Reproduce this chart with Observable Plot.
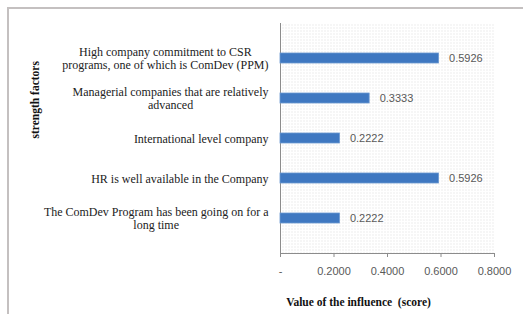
<!DOCTYPE html>
<html>
<head>
<meta charset="utf-8">
<script src="https://cdn.jsdelivr.net/npm/d3@7"></script>
<script src="https://cdn.jsdelivr.net/npm/@observablehq/plot@0.6"></script>
<style>
  html, body { margin: 0; padding: 0; background: #fff; }
  #wrap { position: relative; width: 523px; height: 314px; overflow: hidden; }
  #box { position: absolute; left: 7px; top: 7px; right: -10px; bottom: -10px;
         border-left: 2px solid #c4c0c0; border-top: 2px solid #c4c0c0; pointer-events: none; }
</style>
</head>
<body>
<div id="wrap"><div id="box"></div></div>
<script>
const categories = [
  "High company commitment to CSR\nprograms, one of which is ComDev (PPM)",
  "Managerial companies that are relatively\nadvanced",
  "International level company",
  "HR is well available in the Company",
  "The ComDev Program has been going on for a\nlong time"
];
const values = [0.5926, 0.3333, 0.2222, 0.5926, 0.2222];
const xTicks = [0, 0.2, 0.4, 0.6, 0.8];
const xTickLabels = ["-", "0.2000", "0.4000", "0.6000", "0.8000"];
const xTitle = "Value of the influence  (score)";
const yTitle = "strength factors";

const data = categories.map((c, i) => ({category: c, value: values[i]}));
const serif = "'Liberation Serif', 'DejaVu Serif', serif";
const sans = "'Liberation Sans', Arial, sans-serif";

const chart = Plot.plot({
  width: 523,
  height: 314,
  marginLeft: 280,
  marginRight: 29,
  marginTop: 23,
  marginBottom: 61,
  style: {background: "transparent", overflow: "visible"},
  x: {domain: [0, 0.8]},
  y: {domain: categories, padding: 0.75},
  marks: [
    Plot.frame({fill: "url(#dots)", stroke: null}),
    Plot.frame({anchor: "bottom", stroke: "#8c8c8c"}),
    Plot.ruleX([0], {stroke: "#8c8c8c"}),
    Plot.barX(data, {x: "value", y: "category", fill: "#3f78c1", stroke: "#6b98d0", strokeWidth: 0.8}),
    Plot.text(data, {x: "value", y: "category", text: d => d.value.toFixed(4), textAnchor: "start", dx: 10,
      fill: "#595959", fontSize: 11, fontFamily: sans}),
    Plot.axisX({ticks: xTicks, tickFormat: (d, i) => xTickLabels[i], tickSize: 4, tickPadding: 10,
      stroke: "#8c8c8c", fill: "#595959", fontSize: 11, fontFamily: sans, label: null}),
    Plot.axisY({tickSize: 0, tickPadding: 12, fill: "#222", fontSize: 12, fontFamily: serif, label: null,
      lineHeight: 1.05}),
    Plot.text([xTitle], {frameAnchor: "bottom", dx: -29, dy: 52, fontFamily: serif, fontWeight: "bold",
      fontSize: 11.5, fill: "#111"}),
    Plot.text([yTitle], {frameAnchor: "left", dx: -245, rotate: -90, fontFamily: serif, fontWeight: "bold",
      fontSize: 11.5, fill: "#111"})
  ]
});

// dotted background pattern
const ns = "http://www.w3.org/2000/svg";
const defs = document.createElementNS(ns, "defs");
defs.innerHTML = '<pattern id="dots" width="3" height="3" patternUnits="userSpaceOnUse">' +
  '<rect width="3" height="3" fill="#ffffff"/><rect x="0" y="0" width="1" height="1" fill="#dcdcdc"/></pattern>';
chart.insertBefore(defs, chart.firstChild);

document.getElementById("wrap").appendChild(chart);

// serif category labels, multi-line labels centered within their block (as in the reference)
chart.querySelectorAll("[aria-label='y-axis tick label'] text").forEach(t => {
  t.style.fontFamily = serif;
  t.style.fontSize = "12px";
  const spans = t.querySelectorAll("tspan");
  if (spans.length < 2) return;
  const widths = Array.from(spans, s => s.getComputedTextLength());
  const W = Math.max(...widths);
  spans.forEach((s, i) => s.setAttribute("x", -(W - widths[i]) / 2));
});
</script>
</body>
</html>
